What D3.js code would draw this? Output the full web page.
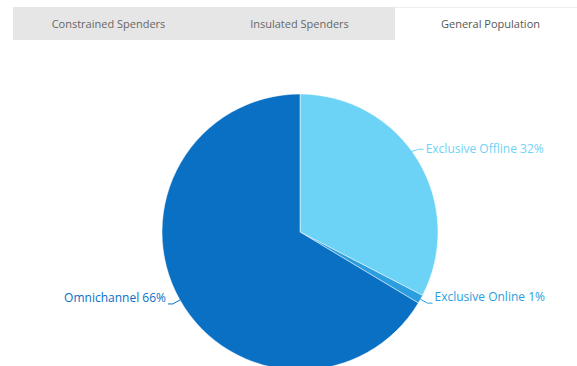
<!DOCTYPE html>
<html>
<head>
<meta charset="utf-8">
<script src="https://cdn.jsdelivr.net/npm/d3@7"></script>
<style>
  body { margin: 0; background: #fff; font-family: "Open Sans", sans-serif; }
</style>
</head>
<body>
<div id="chart"></div>
<script>
var tabs = ["Constrained Spenders", "Insulated Spenders", "General Population"];
var activeTab = 2;

var categories = ["Exclusive Offline", "Exclusive Online", "Omnichannel"];
var values = [32.6, 1.0, 66.4];
var labels = ["Exclusive Offline 32%", "Exclusive Online 1%", "Omnichannel 66%"];
var colors = ["#6dd3f6", "#2a9ede", "#0a70c4"];

var W = 577, H = 366;
var svg = d3.select("#chart").append("svg")
    .attr("width", W)
    .attr("height", H);

// tab bar
var tabX = d3.scaleBand().domain(tabs).range([13, 586]);
svg.append("rect")
    .attr("x", 13).attr("y", 7)
    .attr("width", tabX(tabs[activeTab]) - 13).attr("height", 33)
    .attr("fill", "#e6e6e6");
svg.append("line")
    .attr("x1", tabX(tabs[activeTab])).attr("x2", W)
    .attr("y1", 7.5).attr("y2", 7.5)
    .attr("stroke", "#eeeeee");
svg.selectAll(".tab")
    .data(tabs)
    .enter().append("text")
    .attr("class", "tab")
    .attr("x", function(d) { return tabX(d) + tabX.bandwidth() / 2; })
    .attr("y", 28)
    .attr("text-anchor", "middle")
    .style("font-size", "11px")
    .style("fill", function(d, i) { return i == activeTab ? "#555" : "#666"; })
    .text(function(d) { return d; });

// pie
var cx = 300, cy = 232, r = 138;
var pie = d3.pie().sort(null).value(function(d) { return d; });
var arc = d3.arc().innerRadius(0).outerRadius(r);
var arcs = pie(values);

var g = svg.append("g")
    .attr("transform", "translate(" + cx + "," + cy + ")");

g.selectAll(".slice")
    .data(arcs)
    .enter().append("path")
    .attr("class", "slice")
    .attr("d", arc)
    .attr("fill", function(d, i) { return colors[i]; })
    .attr("stroke", "#fff")
    .attr("stroke-width", 0.5);

// labels
var outer = d3.arc().innerRadius(r + 8).outerRadius(r + 8);
var inner = d3.arc().innerRadius(r).outerRadius(r);

function isRight(d) { return (d.startAngle + d.endAngle) / 2 < Math.PI; }
function elbow(d, i) {
    // the big offline slice puts its label higher up its arc
    return i == 0 ? [r * 0.86, -r * 0.6] : outer.centroid(d);
}

var lab = g.selectAll(".lab")
    .data(arcs)
    .enter().append("g")
    .attr("class", "lab");

lab.append("polyline")
    .attr("points", function(d, i) {
        var b = elbow(d, i);
        var a = i == 0 ? [r * 0.8, -r * 0.58] : inner.centroid(d);
        return [a, b, [b[0] + (isRight(d) ? 5 : -5), b[1]]];
    })
    .attr("fill", "none")
    .attr("stroke", function(d, i) { return colors[i]; })
    .attr("stroke-width", 1);

lab.append("text")
    .attr("x", function(d, i) { return elbow(d, i)[0] + (isRight(d) ? 7 : -7); })
    .attr("y", function(d, i) { return elbow(d, i)[1] + (i == 0 ? 4 : -2); })
    .attr("text-anchor", function(d) { return isRight(d) ? "start" : "end"; })
    .style("font-size", "12px")
    .style("fill", function(d, i) { return colors[i]; })
    .text(function(d, i) { return labels[i]; });
</script>
</body>
</html>
